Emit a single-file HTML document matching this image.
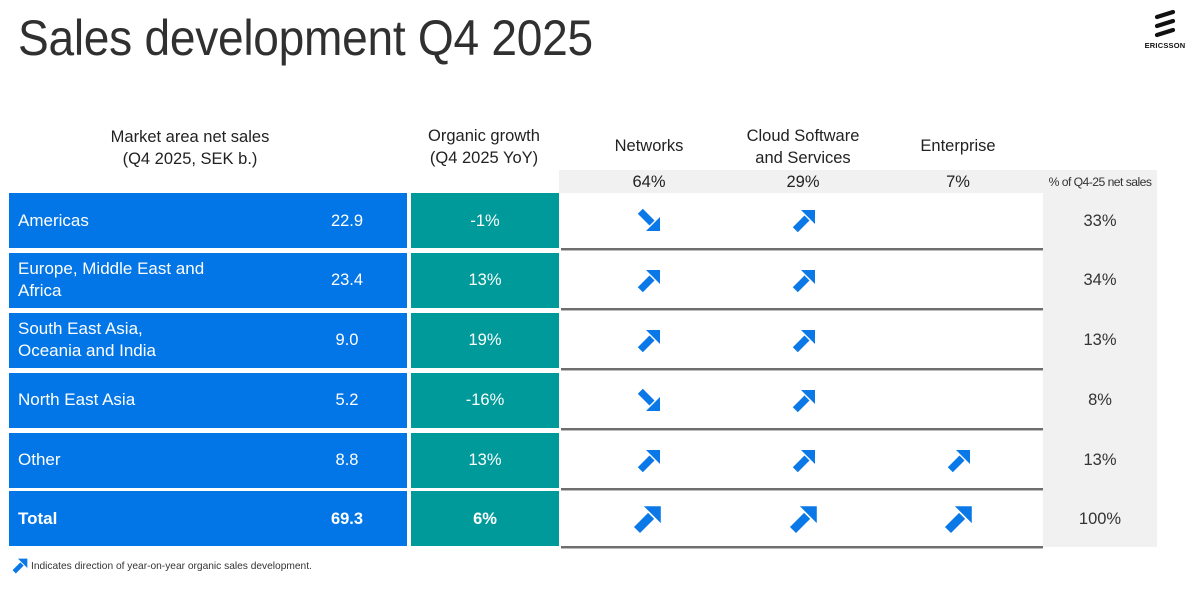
<!DOCTYPE html>
<html>
<head>
<meta charset="utf-8">
<style>
  html, body { margin:0; padding:0; }
  body { width:1200px; height:603px; background:#fff; position:relative; overflow:hidden;
         font-family:"Liberation Sans", "DejaVu Sans", sans-serif; color:#222; }
  .abs { position:absolute; }
  .title { left:18px; top:9px; font-size:50px; color:#303030; white-space:nowrap;
           transform:scaleX(0.922); transform-origin:left top; letter-spacing:-0.3px; line-height:58px; }
  .hdr { position:absolute; font-size:16.5px; color:#222; text-align:center; line-height:22px; white-space:nowrap; }
  .blue { position:absolute; left:9px; width:398px; background:#0276e6; }
  .teal { position:absolute; left:411px; width:148px; background:#009a9a; }
  .lbl { position:absolute; left:9px; color:#fff; font-size:17px; line-height:22px; white-space:nowrap; padding-left:9px; }
  .num { position:absolute; color:#fff; font-size:16.5px; line-height:22px; width:80px; text-align:center; left:307px; white-space:nowrap; }
  .pct { position:absolute; color:#fff; font-size:16.5px; line-height:22px; width:148px; text-align:center; left:411px; white-space:nowrap; }
  .sep { position:absolute; left:561px; width:482px; height:2px; background:#6e6e6e; border-bottom:1px solid #bcbcbc; }
  .rv { position:absolute; left:1043px; width:114px; text-align:center; font-size:16.5px; line-height:22px; color:#333; white-space:nowrap; }
  .arr { position:absolute; }
  .b { font-weight:bold; }
</style>
</head>
<body>

<div class="abs title">Sales development Q4 2025</div>

<!-- Ericsson logo -->
<svg class="abs" style="left:1140px;top:6px" width="50" height="46" viewBox="0 0 50 46">
  <g stroke="#111" stroke-width="4.2" stroke-linecap="round">
    <line x1="17" y1="11" x2="33" y2="6"/>
    <line x1="17" y1="20" x2="33" y2="15"/>
    <line x1="17" y1="29" x2="33" y2="24"/>
  </g>
  <text x="25" y="42" text-anchor="middle" font-family="Liberation Sans, sans-serif" font-weight="bold" font-size="7.5" fill="#111" letter-spacing="0.2">ERICSSON</text>
</svg>

<!-- headers -->
<div class="hdr" style="left:90px;width:200px;top:126px;">Market area net sales<br>(Q4 2025, SEK b.)</div>
<div class="hdr" style="left:384px;width:200px;top:125px;">Organic growth<br>(Q4 2025 YoY)</div>
<div class="hdr" style="left:569px;width:160px;top:135px;">Networks</div>
<div class="hdr" style="left:723px;width:160px;top:125px;">Cloud Software<br>and Services</div>
<div class="hdr" style="left:878px;width:160px;top:135px;">Enterprise</div>

<!-- gray bands -->
<div class="abs" style="left:559px;top:170px;width:598px;height:23px;background:#f1f1f1;"></div>
<div class="abs" style="left:1043px;top:170px;width:114px;height:377px;background:#f1f1f1;"></div>

<div class="hdr" style="left:569px;width:160px;top:171px;">64%</div>
<div class="hdr" style="left:723px;width:160px;top:171px;">29%</div>
<div class="hdr" style="left:878px;width:160px;top:171px;">7%</div>
<div class="abs" style="left:1030px;width:140px;top:175px;font-size:12.2px;letter-spacing:-0.55px;color:#333;text-align:center;white-space:nowrap;">% of Q4-25 net sales</div>

<!-- blue / teal cells -->
<div class="blue" style="top:193px;height:55px;"></div>
<div class="blue" style="top:253px;height:55px;"></div>
<div class="blue" style="top:313px;height:55px;"></div>
<div class="blue" style="top:373px;height:55px;"></div>
<div class="blue" style="top:433px;height:55px;"></div>
<div class="blue" style="top:491px;height:55px;"></div>

<div class="teal" style="top:193px;height:55px;"></div>
<div class="teal" style="top:253px;height:55px;"></div>
<div class="teal" style="top:313px;height:55px;"></div>
<div class="teal" style="top:373px;height:55px;"></div>
<div class="teal" style="top:433px;height:55px;"></div>
<div class="teal" style="top:491px;height:55px;"></div>

<!-- labels -->
<div class="lbl" style="top:210px;">Americas</div>
<div class="lbl" style="top:258px;">Europe, Middle East and<br>Africa</div>
<div class="lbl" style="top:318px;">South East Asia,<br>Oceania and India</div>
<div class="lbl" style="top:389px;">North East Asia</div>
<div class="lbl" style="top:449px;">Other</div>
<div class="lbl b" style="top:508px;">Total</div>

<div class="num" style="top:210px;">22.9</div>
<div class="num" style="top:269px;">23.4</div>
<div class="num" style="top:329px;">9.0</div>
<div class="num" style="top:389px;">5.2</div>
<div class="num" style="top:449px;">8.8</div>
<div class="num b" style="top:508px;">69.3</div>

<div class="pct" style="top:210px;">-1%</div>
<div class="pct" style="top:269px;">13%</div>
<div class="pct" style="top:329px;">19%</div>
<div class="pct" style="top:389px;">-16%</div>
<div class="pct" style="top:449px;">13%</div>
<div class="pct b" style="top:508px;">6%</div>

<!-- separators -->
<div class="sep" style="top:248px;"></div>
<div class="sep" style="top:308px;"></div>
<div class="sep" style="top:368px;"></div>
<div class="sep" style="top:428px;"></div>
<div class="sep" style="top:488px;"></div>
<div class="sep" style="top:546px;"></div>

<!-- right values -->
<div class="rv" style="top:210px;">33%</div>
<div class="rv" style="top:269px;">34%</div>
<div class="rv" style="top:329px;">13%</div>
<div class="rv" style="top:389px;">8%</div>
<div class="rv" style="top:449px;">13%</div>
<div class="rv" style="top:508px;">100%</div>

<!-- arrow symbols -->
<svg width="0" height="0" style="position:absolute">
  <defs>
    <g id="up">
      <polygon points="9,1 23,1 23,15" fill="#0a78e6"/>
      <polygon points="0.8,18.2 5.8,23.2 17.5,11.5 12.5,6.5" fill="#0a78e6"/>
    </g>
    <g id="dn">
      <polygon points="9,23 23,23 23,9" fill="#0a78e6"/>
      <polygon points="0.8,5.8 5.8,0.8 17.5,12.5 12.5,17.5" fill="#0a78e6"/>
    </g>
  </defs>
</svg>

<!-- row 1 -->
<svg class="arr" style="left:637px;top:208px" width="24" height="24" viewBox="0 0 24 24"><use href="#dn"/></svg>
<svg class="arr" style="left:792px;top:209px" width="24" height="24" viewBox="0 0 24 24"><use href="#up"/></svg>
<!-- row 2 -->
<svg class="arr" style="left:637px;top:269px" width="24" height="24" viewBox="0 0 24 24"><use href="#up"/></svg>
<svg class="arr" style="left:792px;top:269px" width="24" height="24" viewBox="0 0 24 24"><use href="#up"/></svg>
<!-- row 3 -->
<svg class="arr" style="left:637px;top:329px" width="24" height="24" viewBox="0 0 24 24"><use href="#up"/></svg>
<svg class="arr" style="left:792px;top:329px" width="24" height="24" viewBox="0 0 24 24"><use href="#up"/></svg>
<!-- row 4 -->
<svg class="arr" style="left:637px;top:388px" width="24" height="24" viewBox="0 0 24 24"><use href="#dn"/></svg>
<svg class="arr" style="left:792px;top:389px" width="24" height="24" viewBox="0 0 24 24"><use href="#up"/></svg>
<!-- row 5 -->
<svg class="arr" style="left:637px;top:449px" width="24" height="24" viewBox="0 0 24 24"><use href="#up"/></svg>
<svg class="arr" style="left:792px;top:449px" width="24" height="24" viewBox="0 0 24 24"><use href="#up"/></svg>
<svg class="arr" style="left:947px;top:449px" width="24" height="24" viewBox="0 0 24 24"><use href="#up"/></svg>
<!-- row 6 (bigger) -->
<svg class="arr" style="left:633px;top:505px" width="29" height="29" viewBox="0 0 24 24"><use href="#up"/></svg>
<svg class="arr" style="left:789px;top:505px" width="29" height="29" viewBox="0 0 24 24"><use href="#up"/></svg>
<svg class="arr" style="left:944px;top:505px" width="29" height="29" viewBox="0 0 24 24"><use href="#up"/></svg>

<!-- footer -->
<svg class="arr" style="left:12px;top:558px" width="16" height="16" viewBox="0 0 24 24"><use href="#up"/></svg>
<div class="abs" style="left:31px;top:561px;font-size:10.2px;color:#333;white-space:nowrap;letter-spacing:0px;">Indicates direction of year-on-year organic sales development.</div>

</body>
</html>
